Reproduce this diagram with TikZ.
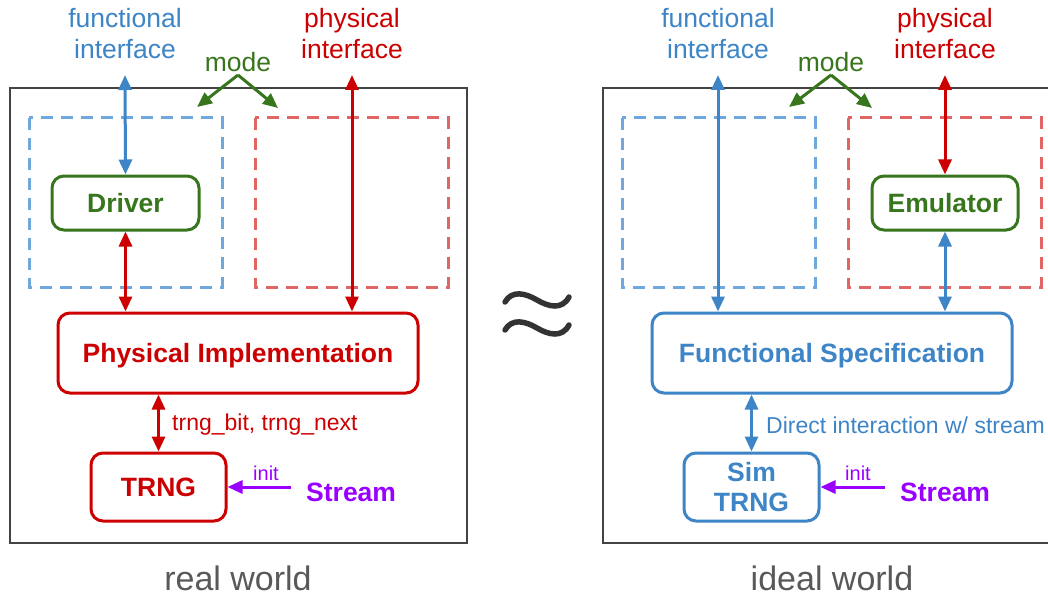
\documentclass[tikz,border=0pt]{standalone}
\usepackage{fontspec}
\setmainfont{Liberation Sans}
\usetikzlibrary{arrows.meta}

\definecolor{cblue}{HTML}{3D85C6}
\definecolor{cred}{HTML}{CC0000}
\definecolor{cgreen}{HTML}{38761D}
\definecolor{cpurple}{HTML}{9900FF}
\definecolor{cdblue}{HTML}{6FA8DC}
\definecolor{cdred}{HTML}{E06666}
\definecolor{cframe}{HTML}{434343}
\definecolor{cgray}{HTML}{595959}
\definecolor{capprox}{HTML}{333333}

\tikzset{
  box/.style={draw, rounded corners=12pt, line width=3pt, inner sep=0pt,
    font=\bfseries\fontsize{26.5}{30}\selectfont},
  tip/.tip={Triangle[length=15pt,width=13pt]},
  link/.style={line width=3pt, tip-tip},
  onelink/.style={line width=3pt, -tip},
  region/.style={line width=3pt, dash pattern=on 12pt off 8pt},
  frame/.style={draw=cframe, line width=2pt},
  lbl/.style={align=center, inner sep=0pt, font=\fontsize{26.5}{31}\selectfont},
  small/.style={inner sep=0pt, font=\fontsize{23}{27}\selectfont},
  tiny/.style={inner sep=0pt, font=\fontsize{20}{24}\selectfont},
  caption/.style={inner sep=0pt, text=cgray, font=\fontsize{34}{40}\selectfont},
  stream/.style={inner sep=0pt, text=cpurple, font=\bfseries\fontsize{26.5}{30}\selectfont},
  wave/.style={draw=capprox, line width=5.5pt, line cap=round},
}

\begin{document}
\begin{tikzpicture}[x=1pt,y=-1pt]
  \clip (0,0) rectangle (1048,596);
  \fill[white] (0,0) rectangle (1048,596);

  % ---------------- real world ----------------
  \draw[frame] (10,88) rectangle (467,543);
  \draw[region, draw=cdblue] (29,118) rectangle (222,287);
  \draw[region, draw=cdred] (255,118) rectangle (448,287);

  \node[lbl, text=cblue] (fiL) at (125,34) {functional\\interface};
  \node[lbl, text=cred] (piL) at (352,34) {physical\\interface};
  \node[lbl, text=cgreen] (modeL) at (238,62) {mode};

  \node[box, draw=cgreen, text=cgreen, minimum width=147pt, minimum height=54pt]
    (driver) at (125.5,203) {Driver};
  \node[box, draw=cred, text=cred, text depth=0pt, minimum width=360pt, minimum height=80pt]
    (phys) at (238,353) {Physical Implementation};
  \node[box, draw=cred, text=cred, minimum width=135pt, minimum height=68pt]
    (trng) at (158.5,487) {TRNG};
  \node[stream, anchor=west] (streamL) at (306,492) {Stream};
  \node[tiny, text=cpurple] (initL) at (266,473) {init};
  \node[small, text=cred, anchor=west] (trngL) at (172,425) {trng\_bit, trng\_next};
  \node[caption] (realL) at (238,578) {real world};

  \coordinate (fiTopL) at (125,75);
  \coordinate (piTopL) at (352,75);
  \coordinate (modeApexL) at (238,75);
  \coordinate (modeLeftL) at (197,107);
  \coordinate (modeRightL) at (278,108);
  \coordinate (initStartL) at (291,487);

  \draw[link, cblue] (fiTopL) -- (driver.north);
  \draw[link, cred] (driver.south) -- (driver.south |- phys.north);
  \draw[link, cred] (piTopL) -- (piTopL |- phys.north);
  \draw[onelink, cgreen] (modeApexL) -- (modeLeftL);
  \draw[onelink, cgreen] (modeApexL) -- (modeRightL);
  \draw[link, cred] (phys.south -| trng.north) -- (trng.north);
  \draw[onelink, cpurple] (initStartL) -- (trng.east);

  % ---------------- approximately equal ----------------
  \draw[wave] (505,302) .. controls (512,290) and (525,293) .. (537,300)
              .. controls (549,307) and (562,310) .. (569,297);
  \draw[wave] (505,330) .. controls (512,318) and (525,321) .. (537,328)
              .. controls (549,335) and (562,338) .. (569,325);

  % ---------------- ideal world ----------------
  \draw[frame] (603,88) rectangle (1060,543);
  \draw[region, draw=cdblue] (622,118) rectangle (815,287);
  \draw[region, draw=cdred] (848,118) rectangle (1041,287);

  \node[lbl, text=cblue] (fiR) at (718,34) {functional\\interface};
  \node[lbl, text=cred] (piR) at (945,34) {physical\\interface};
  \node[lbl, text=cgreen] (modeR) at (831,62) {mode};

  \node[box, draw=cgreen, text=cgreen, minimum width=146pt, minimum height=54pt]
    (emu) at (945,203) {Emulator};
  \node[box, draw=cblue, text=cblue, text depth=0pt, minimum width=360pt, minimum height=80pt]
    (spec) at (832,353) {Functional Specification};
  \node[box, draw=cblue, text=cblue, align=center, minimum width=135pt, minimum height=68pt]
    (sim) at (751.5,487) {Sim\\TRNG};
  \node[stream, anchor=west] (streamR) at (900,492) {Stream};
  \node[tiny, text=cpurple] (initR) at (858,473) {init};
  \node[small, text=cblue, anchor=west] (directL) at (766,425) {Direct interaction w/ stream};
  \node[caption] (idealL) at (832,578) {ideal world};

  \coordinate (fiTopR) at (718,75);
  \coordinate (piTopR) at (945,75);
  \coordinate (modeApexR) at (831,75);
  \coordinate (modeLeftR) at (789,107);
  \coordinate (modeRightR) at (872,108);
  \coordinate (initStartR) at (885,487);

  \draw[link, cblue] (fiTopR) -- (fiTopR |- spec.north);
  \draw[link, cred] (piTopR) -- (emu.north);
  \draw[link, cblue] (emu.south) -- (emu.south |- spec.north);
  \draw[onelink, cgreen] (modeApexR) -- (modeLeftR);
  \draw[onelink, cgreen] (modeApexR) -- (modeRightR);
  \draw[link, cblue] (spec.south -| sim.north) -- (sim.north);
  \draw[onelink, cpurple] (initStartR) -- (sim.east);
\end{tikzpicture}
\end{document}
